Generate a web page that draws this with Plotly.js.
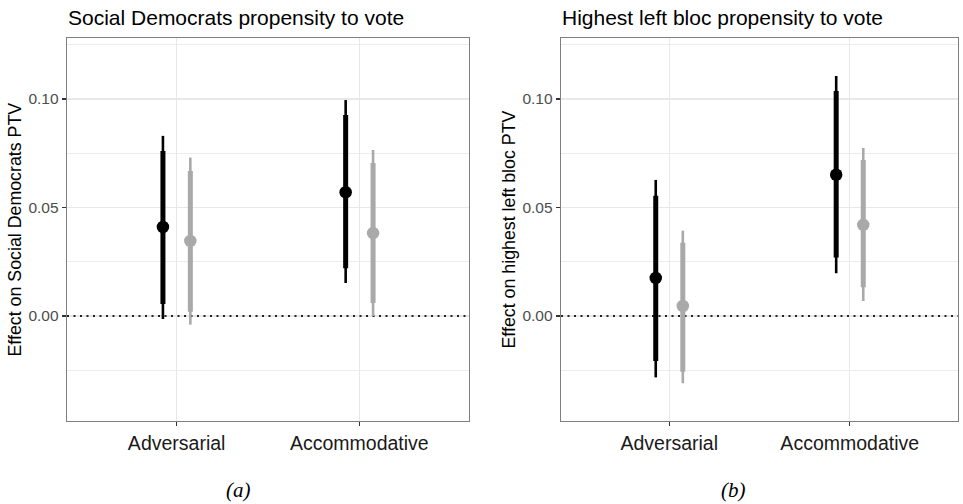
<!DOCTYPE html>
<html>
<head>
<meta charset="utf-8">
<script src="https://cdn.plot.ly/plotly-3.0.1.min.js"></script>
<style>html,body{margin:0;padding:0;background:#fff;}#chart{width:963px;height:504px;}</style>
</head>
<body>
<div id="chart"></div>
<script>
// ---- data ----
const categories = ["Adversarial", "Accommodative"];
const panelTitles = ["Social Democrats propensity to vote", "Highest left bloc propensity to vote"];
const yTitles = ["Effect on Social Democrats PTV", "Effect on highest left bloc PTV"];
const captions = ["(a)", "(b)"];
const yTickVals = [0.00, 0.05, 0.10];
const yTickText = ["0.00", "0.05", "0.10"];
const referenceValue = 0;

// Panel (a): Social Democrats
const a_black_est   = [0.041, 0.057];
const a_black_lo95  = [-0.0014, 0.0152];
const a_black_hi95  = [0.083, 0.0995];
const a_black_lo90  = [0.0055, 0.022];
const a_black_hi90  = [0.076, 0.0926];
const a_grey_est    = [0.0346, 0.0382];
const a_grey_lo95   = [-0.004, 0.0];
const a_grey_hi95   = [0.073, 0.0765];
const a_grey_lo90   = [0.002, 0.006];
const a_grey_hi90   = [0.0668, 0.0705];

// Panel (b): Highest left bloc
const b_black_est   = [0.0175, 0.0651];
const b_black_lo95  = [-0.0283, 0.0197];
const b_black_hi95  = [0.0627, 0.1106];
const b_black_lo90  = [-0.0207, 0.027];
const b_black_hi90  = [0.0554, 0.1037];
const b_grey_est    = [0.0046, 0.042];
const b_grey_lo95   = [-0.031, 0.0069];
const b_grey_hi95   = [0.0393, 0.0774];
const b_grey_lo90   = [-0.0257, 0.0132];
const b_grey_hi90   = [0.0338, 0.0719];

// ---- styles ----
const BLACK = "#000000";
const GREY = "#a9a9a9";
const DODGE = 0.075;
const X_RANGE = [0.4, categories.length + 0.6];
const catPos = categories.map((c, i) => i + 1);

function sub(a, b) { return a.map((v, i) => v - b[i]); }

function refLine(xa, ya) {
  return {
    type: "scatter", mode: "lines", x: X_RANGE, y: [referenceValue, referenceValue],
    xaxis: xa, yaxis: ya, line: {color: "#222", width: 2, dash: "2px,4.5px"},
    hoverinfo: "skip", showlegend: false, cliponaxis: true
  };
}

function series(est, lo95, hi95, lo90, hi90, color, offset, xa, ya) {
  const xs = catPos.map(p => p + offset);
  const outer = {
    type: "scatter", mode: "markers", x: xs, y: est, xaxis: xa, yaxis: ya,
    marker: {size: 1, color: color, opacity: 0},
    error_y: {type: "data", symmetric: false, array: sub(hi95, est), arrayminus: sub(est, lo95),
              thickness: 2.6, width: 0, color: color},
    hoverinfo: "skip", showlegend: false
  };
  const inner = {
    type: "scatter", mode: "markers", x: xs, y: est, xaxis: xa, yaxis: ya,
    marker: {size: 12.5, color: color},
    error_y: {type: "data", symmetric: false, array: sub(hi90, est), arrayminus: sub(est, lo90),
              thickness: 5, width: 0, color: color},
    showlegend: false
  };
  return [outer, inner];
}

const data = [].concat(
  [refLine("x", "y"), refLine("x2", "y2")],
  series(a_black_est, a_black_lo95, a_black_hi95, a_black_lo90, a_black_hi90, BLACK, -DODGE, "x", "y"),
  series(a_grey_est, a_grey_lo95, a_grey_hi95, a_grey_lo90, a_grey_hi90, GREY, DODGE, "x", "y"),
  series(b_black_est, b_black_lo95, b_black_hi95, b_black_lo90, b_black_hi90, BLACK, -DODGE, "x2", "y2"),
  series(b_grey_est, b_grey_lo95, b_grey_hi95, b_grey_lo90, b_grey_hi90, GREY, DODGE, "x2", "y2")
);

const W = 963, H = 504;
const plotTop = 38, plotBottom = 421;
const yDomain = [1 - plotBottom / H, 1 - plotTop / H];
const xDomains = [[67 / W, 469 / W], [561 / W, 958 / W]];

function xaxis(domain, anchor) {
  return {
    domain: domain, anchor: anchor, range: X_RANGE,
    tickmode: "array", tickvals: catPos, ticktext: categories,
    showgrid: true, gridcolor: "#e8e8e8", gridwidth: 1.1, zeroline: false,
    showline: true, mirror: true, linecolor: "#7f7f7f", linewidth: 1.3,
    ticks: "outside", ticklen: 4, tickcolor: "#333", tickwidth: 1.1,
    tickfont: {family: "Liberation Sans, Arial, sans-serif", size: 19.5, color: "#1a1a1a"},
    fixedrange: true
  };
}
function yaxis(domain, anchor) {
  return {
    domain: domain, anchor: anchor, range: [-0.0484, 0.1281],
    tickmode: "array", tickvals: yTickVals, ticktext: yTickText,
    showgrid: true, gridcolor: "#e8e8e8", gridwidth: 1.1, zeroline: false,
    minor: {dtick: 0.025, tick0: 0, showgrid: true, gridcolor: "#ececec", gridwidth: 1, ticks: ""},
    showline: true, mirror: true, linecolor: "#7f7f7f", linewidth: 1.3,
    ticks: "outside", ticklen: 4, tickcolor: "#333", tickwidth: 1.1,
    tickfont: {family: "Liberation Sans, Arial, sans-serif", size: 15.5, color: "#4d4d4d"},
    fixedrange: true
  };
}

const annotations = [];
for (let p = 0; p < 2; p++) {
  const d = xDomains[p];
  annotations.push({
    text: panelTitles[p], xref: "paper", yref: "paper", x: d[0] - 1 / W, y: 1 - 18 / H,
    xanchor: "left", yanchor: "middle", showarrow: false,
    font: {family: "Liberation Sans, Arial, sans-serif", size: 21, color: "#000"}
  });
  annotations.push({
    text: yTitles[p], xref: "paper", yref: "paper", x: (p === 0 ? 15 : 509) / W,
    y: (yDomain[0] + yDomain[1]) / 2, xanchor: "center", yanchor: "middle", textangle: -90,
    showarrow: false,
    font: {family: "Liberation Sans, Arial, sans-serif", size: 17.8, color: "#000"}
  });
  annotations.push({
    text: "<i>" + captions[p] + "</i>", xref: "paper", yref: "paper",
    x: (p === 0 ? 238 : 733) / W, y: 1 - 490 / H, xanchor: "center", yanchor: "middle",
    showarrow: false,
    font: {family: "Liberation Serif, Times New Roman, serif", size: 21, color: "#000"}
  });
}

const layout = {
  width: W, height: H,
  margin: {l: 0, r: 0, t: 0, b: 0},
  paper_bgcolor: "#fff", plot_bgcolor: "#fff",
  xaxis: xaxis(xDomains[0], "y"),
  yaxis: yaxis(yDomain, "x"),
  xaxis2: xaxis(xDomains[1], "y2"),
  yaxis2: yaxis(yDomain, "x2"),
  annotations: annotations,
  showlegend: false
};

Plotly.newPlot("chart", data, layout, {displayModeBar: false, staticPlot: true});
</script>
</body>
</html>
